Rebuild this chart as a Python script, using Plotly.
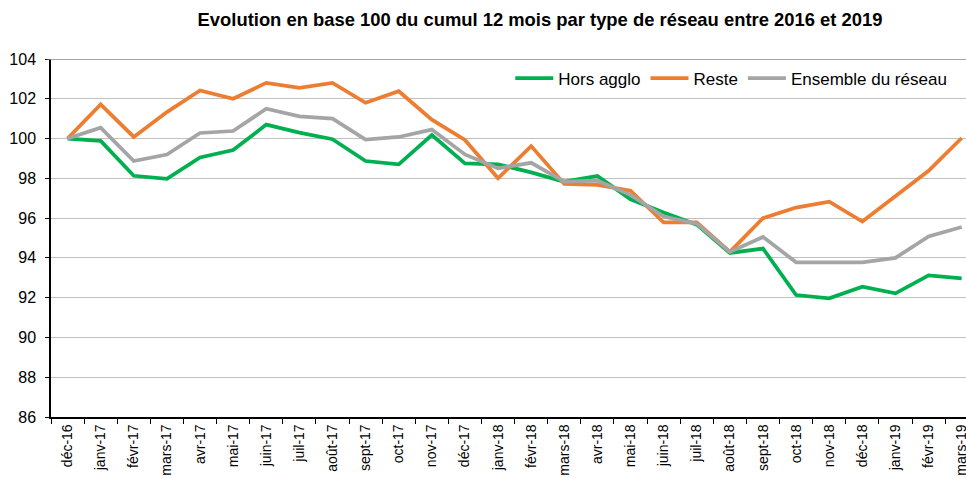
import plotly.graph_objects as go

categories = ["déc-16", "janv-17", "févr-17", "mars-17", "avr-17", "mai-17", "juin-17",
              "juil-17", "août-17", "sept-17", "oct-17", "nov-17", "déc-17", "janv-18",
              "févr-18", "mars-18", "avr-18", "mai-18", "juin-18", "juil-18", "août-18",
              "sept-18", "oct-18", "nov-18", "déc-18", "janv-19", "févr-19", "mars-19"]

hors_agglo = [100.0, 99.88, 98.13, 97.97, 99.05, 99.42, 100.7, 100.3, 99.97, 98.87,
              98.7, 100.18, 98.75, 98.7, 98.3, 97.83, 98.12, 96.95, 96.28, 95.67,
              94.25, 94.47, 92.13, 91.97, 92.55, 92.22, 93.12, 92.97]

reste = [100.0, 101.72, 100.08, 101.33, 102.42, 102.0, 102.8, 102.55, 102.8, 101.8,
         102.38, 100.95, 99.93, 98.0, 99.62, 97.72, 97.67, 97.38, 95.78, 95.78,
         94.3, 96.0, 96.53, 96.83, 95.83, 97.08, 98.38, 100.03]

ensemble = [100.0, 100.55, 98.87, 99.2, 100.28, 100.38, 101.5, 101.12, 101.0, 99.95,
            100.08, 100.45, 99.2, 98.5, 98.78, 97.83, 97.88, 97.17, 96.08, 95.72,
            94.3, 95.05, 93.78, 93.78, 93.78, 94.0, 95.08, 95.55]

y_ticks = [86, 88, 90, 92, 94, 96, 98, 100, 102, 104]

series = [("Hors agglo", hors_agglo, "#00b050"),
          ("Reste", reste, "#ed7d31"),
          ("Ensemble du réseau", ensemble, "#a5a5a5")]

FONT = "Liberation Sans, Arial, sans-serif"

fig = go.Figure()
for name, vals, color in series:
    fig.add_trace(go.Scatter(x=categories, y=vals, mode="lines", name=name,
                             line=dict(color=color, width=3.75)))

fig.add_shape(type="line", xref="paper", x0=-0.004, x1=1, yref="y", y0=104, y1=104,
              line=dict(color="#868686", width=1.5), layer="above")

fig.update_layout(
    width=966, height=478,
    margin=dict(l=51, r=0, t=59, b=61, autoexpand=False),
    paper_bgcolor="white", plot_bgcolor="white",
    font=dict(family=FONT, color="black"),
    title=dict(text="<b>Evolution en base 100 du cumul 12 mois par type de réseau entre 2016 et 2019</b>",
               x=0.559, xanchor="center", xref="container",
               y=1 - 20 / 478, yanchor="middle", yref="container",
               font=dict(size=18.4, family=FONT, color="black")),
    legend=dict(orientation="h", x=0.985, xanchor="right", y=0.945, yanchor="middle",
                font=dict(size=17, family=FONT, color="black"), itemwidth=38,
                bgcolor="rgba(0,0,0,0)", traceorder="normal"),
    showlegend=True,
)

fig.update_xaxes(
    type="category", range=[-0.5, 27.13], automargin=False,
    tickangle=-90, tickfont=dict(size=14, family=FONT, color="black"),
    ticks="outside", tickson="boundaries", ticklen=5, tickcolor="black",
    showline=True, linecolor="black", linewidth=1.5,
    showgrid=False, zeroline=False,
)

fig.update_yaxes(
    range=[86, 104], tickvals=y_ticks, ticktext=[str(v) for v in y_ticks],
    automargin=False, ticklabelstandoff=6,
    tickfont=dict(size=16, family=FONT, color="black"),
    ticks="outside", ticklen=4, tickcolor="black",
    showline=True, linecolor="black", linewidth=1.5,
    showgrid=True, gridcolor="#c0c0c0", gridwidth=1, zeroline=False,
)

fig.write_html("out.html",
               config={"displayModeBar": False},
               post_script="document.body.style.margin='0';document.body.style.overflow='hidden';")
